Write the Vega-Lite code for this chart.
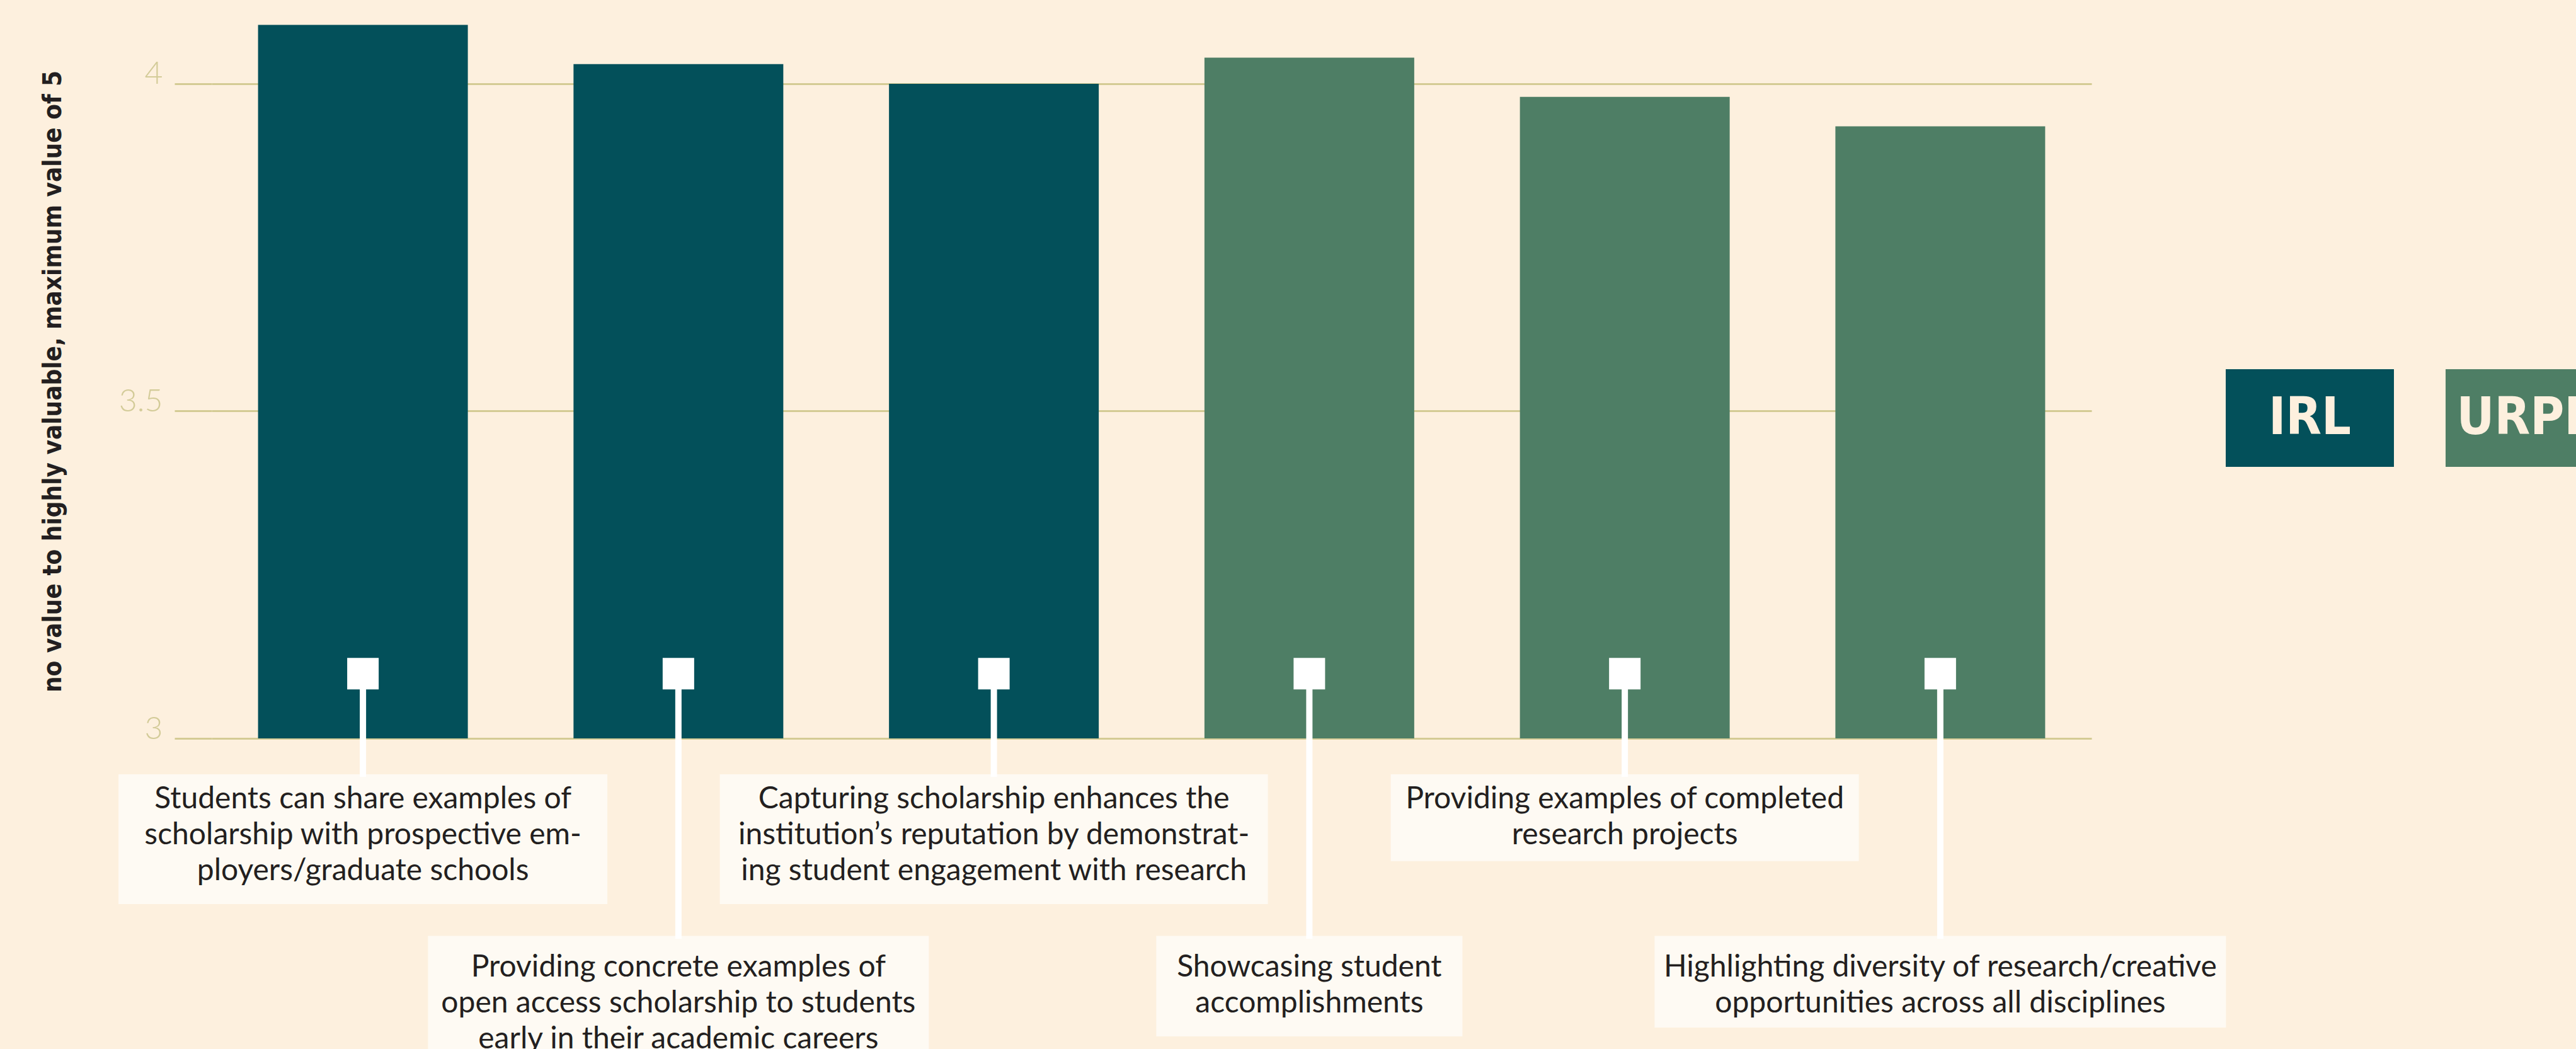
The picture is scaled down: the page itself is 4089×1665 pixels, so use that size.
{
  "$schema": "https://vega.github.io/schema/vega-lite/v6.json",
  "autosize": {"type": "none"},
  "padding": {"left": 336, "top": 0, "right": 769, "bottom": 493},
  "width": 2984,
  "height": 1172,
  "background": "#FDF0DE",
  "config": {
    "view": {"stroke": null},
    "axisY": {
      "grid": true, "gridColor": "#D4CB94", "gridWidth": 3,
      "domain": false, "ticks": true, "tickSize": 59, "tickColor": "#D4CB94", "tickWidth": 3,
      "labelPadding": 19, "labelFont": "Lato", "labelFontWeight": 300, "labelFontSize": 50,
      "labelColor": "#D3CB98", "labelBaseline": "alphabetic",
      "titleFont": "'DejaVu Sans Condensed', 'Roboto Condensed', 'Liberation Sans Narrow', Roboto, sans-serif", "titleFontWeight": "bold", "titleFontSize": 40,
      "titleColor": "#231F20", "titleX": -240, "titleY": 605, "titleAngle": 270,
      "titleAlign": "center", "titleBaseline": "alphabetic"
    }
  },
  "data": {"values": [
    {"order": 1, "label": "Students can share examples of\nscholarship with prospective em-\nployers/graduate schools", "value": 4.09, "group": "IRL"},
    {"order": 2, "label": "Providing concrete examples of\nopen access scholarship to students\nearly in their academic careers", "value": 4.03, "group": "IRL"},
    {"order": 3, "label": "Capturing scholarship enhances the\ninstitution’s reputation by demonstrat-\ning student engagement with research", "value": 4.00, "group": "IRL"},
    {"order": 4, "label": "Showcasing student\naccomplishments", "value": 4.04, "group": "URPD"},
    {"order": 5, "label": "Providing examples of completed\nresearch projects", "value": 3.98, "group": "URPD"},
    {"order": 6, "label": "Highlighting diversity of research/creative\nopportunities across all disciplines", "value": 3.935, "group": "URPD"}
  ]},
  "encoding": {
    "x": {"field": "label", "type": "nominal", "sort": null, "axis": null,
          "scale": {"paddingInner": 0.335, "paddingOuter": 0.147}}
  },
  "layer": [
    {
      "mark": {"type": "bar"},
      "encoding": {
        "y": {"field": "value", "type": "quantitative", "title": "no value to highly valuable, maximum value of 5",
              "scale": {"domain": [3, 4.128], "nice": false, "zero": false},
              "axis": {"values": [3, 3.5, 4], "format": "~g"}},
        "y2": {"datum": 3},
        "color": {"field": "group", "type": "nominal",
                  "scale": {"domain": ["IRL", "URPD"], "range": ["#03505A", "#4E7E65"]},
                  "legend": {"orient": "none", "legendX": 3197, "legendY": 530, "direction": "horizontal",
                             "title": null, "symbolType": "M-1,-0.5805H1V0.5805H-1Z", "symbolSize": 71289,
                             "symbolStrokeWidth": 0, "symbolOpacity": 1, "labelOffset": -133.5, "labelAlign": "center",
                             "labelFont": "'DejaVu Sans Condensed', 'Roboto Condensed', 'Liberation Sans Narrow', Roboto, sans-serif", "labelFontWeight": "bold", "labelFontSize": 82,
                             "labelColor": "#FDF0DE", "columnPadding": 82, "padding": 0, "labelLimit": 0}}
      }
    },
    {
      "transform": [{"filter": "datum.order == 1"}],
      "mark": {"type": "bar", "width": 776, "color": "#FEFAF3"},
      "encoding": {
        "y": {"datum": 2.9451, "type": "quantitative", "title": "no value to highly valuable, maximum value of 5", "scale": {"domain": [3, 4.128], "nice": false, "zero": false}},
        "y2": {"datum": 2.7469}
      }
    },
    {
      "transform": [{"filter": "datum.order == 2"}],
      "mark": {"type": "bar", "width": 795, "color": "#FEFAF3"},
      "encoding": {
        "y": {"datum": 2.6983, "type": "quantitative", "title": "no value to highly valuable, maximum value of 5", "scale": {"domain": [3, 4.128], "nice": false, "zero": false}},
        "y2": {"datum": 2.5}
      }
    },
    {
      "transform": [{"filter": "datum.order == 3"}],
      "mark": {"type": "bar", "width": 870, "color": "#FEFAF3"},
      "encoding": {
        "y": {"datum": 2.9451, "type": "quantitative", "title": "no value to highly valuable, maximum value of 5", "scale": {"domain": [3, 4.128], "nice": false, "zero": false}},
        "y2": {"datum": 2.7469}
      }
    },
    {
      "transform": [{"filter": "datum.order == 4"}],
      "mark": {"type": "bar", "width": 486, "color": "#FEFAF3"},
      "encoding": {
        "y": {"datum": 2.6983, "type": "quantitative", "title": "no value to highly valuable, maximum value of 5", "scale": {"domain": [3, 4.128], "nice": false, "zero": false}},
        "y2": {"datum": 2.5448}
      }
    },
    {
      "transform": [{"filter": "datum.order == 5"}],
      "mark": {"type": "bar", "width": 743, "color": "#FEFAF3"},
      "encoding": {
        "y": {"datum": 2.9451, "type": "quantitative", "title": "no value to highly valuable, maximum value of 5", "scale": {"domain": [3, 4.128], "nice": false, "zero": false}},
        "y2": {"datum": 2.8126}
      }
    },
    {
      "transform": [{"filter": "datum.order == 6"}],
      "mark": {"type": "bar", "width": 907, "color": "#FEFAF3"},
      "encoding": {
        "y": {"datum": 2.6983, "type": "quantitative", "title": "no value to highly valuable, maximum value of 5", "scale": {"domain": [3, 4.128], "nice": false, "zero": false}},
        "y2": {"datum": 2.5582}
      }
    },
    {
      "transform": [{"filter": "datum.order % 2 == 1"}],
      "mark": {"type": "rule", "color": "#FFFFFF", "strokeWidth": 10},
      "encoding": {
        "y": {"datum": 3.099, "type": "quantitative", "title": "no value to highly valuable, maximum value of 5", "scale": {"domain": [3, 4.128], "nice": false, "zero": false}},
        "y2": {"datum": 2.9413}
      }
    },
    {
      "transform": [{"filter": "datum.order % 2 == 0"}],
      "mark": {"type": "rule", "color": "#FFFFFF", "strokeWidth": 10},
      "encoding": {
        "y": {"datum": 3.099, "type": "quantitative", "title": "no value to highly valuable, maximum value of 5", "scale": {"domain": [3, 4.128], "nice": false, "zero": false}},
        "y2": {"datum": 2.694}
      }
    },
    {
      "mark": {"type": "square", "size": 2500, "color": "#FFFFFF", "opacity": 1, "filled": true},
      "encoding": {
        "y": {"datum": 3.099, "type": "quantitative", "title": "no value to highly valuable, maximum value of 5", "scale": {"domain": [3, 4.128], "nice": false, "zero": false}}
      }
    },
    {
      "transform": [{"filter": "datum.order % 2 == 1"}],
      "mark": {"type": "text", "lineBreak": "\n", "align": "center", "baseline": "alphabetic", "font": "Lato", "fontSize": 48, "lineHeight": 57, "color": "#231F20"},
      "encoding": {
        "y": {"datum": 2.8927, "type": "quantitative", "title": "no value to highly valuable, maximum value of 5", "scale": {"domain": [3, 4.128], "nice": false, "zero": false}},
        "text": {"field": "label"}
      }
    },
    {
      "transform": [{"filter": "datum.order % 2 == 0"}],
      "mark": {"type": "text", "lineBreak": "\n", "align": "center", "baseline": "alphabetic", "font": "Lato", "fontSize": 48, "lineHeight": 57, "color": "#231F20"},
      "encoding": {
        "y": {"datum": 2.6362, "type": "quantitative", "title": "no value to highly valuable, maximum value of 5", "scale": {"domain": [3, 4.128], "nice": false, "zero": false}},
        "text": {"field": "label"}
      }
    }
  ]
}
